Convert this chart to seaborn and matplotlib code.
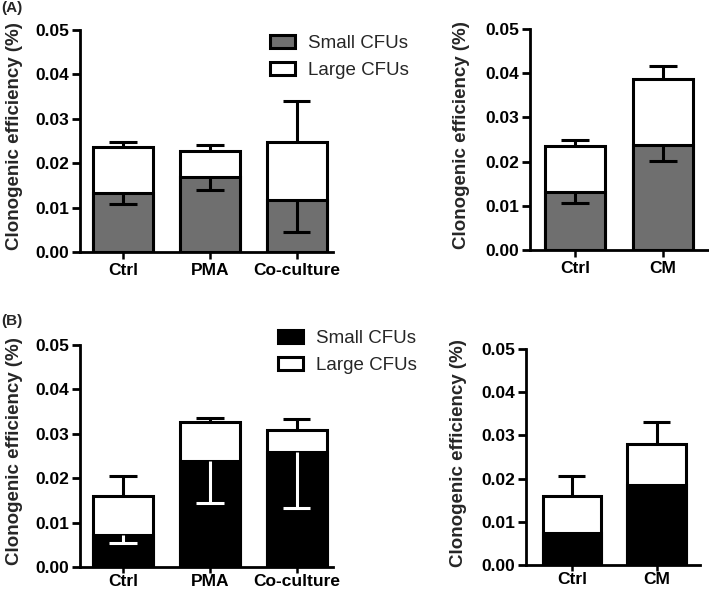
import numpy as np
import pandas as pd
import matplotlib
matplotlib.use("Agg")
import matplotlib.pyplot as plt
import seaborn as sns
from matplotlib.patches import Patch

sns.set_theme(style="ticks")
plt.rcParams['font.family'] = ['Liberation Sans', 'DejaVu Sans']

# ---------------- data ----------------
cats_3 = ["Ctrl", "PMA", "Co-culture"]
cats_2 = ["Ctrl", "CM"]

# Panel A, left
a1_small = [0.0133, 0.0169, 0.0117]
a1_small_err = [0.0024, 0.0030, 0.0073]
a1_total = [0.0237, 0.0227, 0.0248]
a1_total_err = [0.0011, 0.0013, 0.0091]

# Panel A, right
a2_small = [0.0131, 0.0237]
a2_small_err = [0.0025, 0.0035]
a2_total = [0.0235, 0.0387]
a2_total_err = [0.0013, 0.0029]

# Panel B, left
b1_small = [0.0071, 0.0238, 0.0258]
b1_small_err = [0.0017, 0.0094, 0.0125]
b1_total = [0.0160, 0.0326, 0.0309]
b1_total_err = [0.0045, 0.0010, 0.0024]

# Panel B, right
b2_small = [0.0074, 0.0185]
b2_small_err = [None, None]
b2_total = [0.0159, 0.0281]
b2_total_err = [0.0048, 0.0050]

yticks = [0.00, 0.01, 0.02, 0.03, 0.04, 0.05]
ylabel = "Clonogenic efficiency (%)"
legend_labels = ["Small CFUs", "Large CFUs"]

GREY = "#6f6f6f"
LW = 2.2
W, H = 709, 590

fig = plt.figure(figsize=(W / 100, H / 100), dpi=100)
fig.patch.set_facecolor("white")


def add_ax(left, right, top, bottom):
    return fig.add_axes([left / W, 1 - bottom / H, (right - left) / W, (bottom - top) / H])


def panel(ax, cats, small, small_err, total, total_err, small_color, err_small_color,
          xlim, label_x, xpad=3, xlen=5):
    df = pd.DataFrame({"cat": cats, "small": small, "total": total})
    sns.barplot(data=df, x="cat", y="total", color="white", saturation=1,
                edgecolor="black", linewidth=LW, width=0.69, ax=ax, zorder=2)
    sns.barplot(data=df, x="cat", y="small", color=small_color, saturation=1,
                edgecolor="black", linewidth=LW, width=0.69, ax=ax, zorder=3)
    cap = 0.16
    for i, (t, te) in enumerate(zip(total, total_err)):
        if te is not None:
            ax.vlines(i, t, t + te, color="black", lw=LW, zorder=1)
            ax.hlines(t + te, i - cap, i + cap, color="black", lw=LW, zorder=1)
    for i, (s, se) in enumerate(zip(small, small_err)):
        if se is not None:
            ax.vlines(i, s - se, s, color=err_small_color, lw=LW, zorder=4)
            ax.hlines(s - se, i - cap, i + cap, color=err_small_color, lw=LW, zorder=4)
    ax.set_ylim(0, 0.05)
    ax.set_xlim(*xlim)
    ax.set_yticks(yticks)
    ax.set_yticklabels([f"{v:.2f}" for v in yticks], fontweight="bold", fontsize=12.5)
    ax.set_xticks(range(len(cats)))
    ax.set_xticklabels(cats, fontweight="bold", fontsize=12.5)
    ax.set_xlabel("")
    ax.set_ylabel(ylabel, fontweight="bold", fontsize=13.5)
    ax.yaxis.set_label_coords(label_x, 0.52)
    sns.despine(ax=ax)
    for sp in ["left", "bottom"]:
        ax.spines[sp].set_linewidth(2.0)
        ax.spines[sp].set_color("black")
    ax.tick_params(axis="y", length=6, width=2.0, pad=2, colors="black")
    ax.tick_params(axis="x", length=xlen, width=1.8, pad=xpad, colors="black")
    ax.set_facecolor("white")


axA1 = add_ax(80, 333, 30, 252)
panel(axA1, cats_3, a1_small, a1_small_err, a1_total, a1_total_err, GREY, "black",
      (-0.5, 2.42), -0.225)
axA2 = add_ax(530, 708, 29, 250)
panel(axA2, cats_2, a2_small, a2_small_err, a2_total, a2_total_err, GREY, "black",
      (-0.51, 1.51), -0.337)
axB1 = add_ax(80, 333, 345, 567)
panel(axB1, cats_3, b1_small, b1_small_err, b1_total, b1_total_err, "black", "white",
      (-0.5, 2.42), -0.225, xpad=1, xlen=4)
axB2 = add_ax(526, 700, 349, 565)
panel(axB2, cats_2, b2_small, b2_small_err, b2_total, b2_total_err, "black", "white",
      (-0.54, 1.51), -0.339, xpad=1, xlen=4)


def add_legend(color, x, y):
    handles = [Patch(facecolor=color, edgecolor="black", linewidth=LW),
               Patch(facecolor="white", edgecolor="black", linewidth=LW)]
    fig.legend(handles=handles, labels=legend_labels, loc="upper left",
               bbox_to_anchor=(x / W, 1 - y / H), frameon=False,
               fontsize=13.5, handlelength=1.35, handleheight=0.65,
               handletextpad=0.65, labelspacing=0.55, borderpad=0, borderaxespad=0)


add_legend(GREY, 270, 35)
add_legend("black", 278, 330)

fig.text(1 / W, 1 - 1 / H, "(A)", fontweight="bold", fontsize=11, ha="left", va="top")
fig.text(1 / W, 1 - 314 / H, "(B)", fontweight="bold", fontsize=11, ha="left", va="top")

fig.savefig("out.png", dpi=100, facecolor="white")
